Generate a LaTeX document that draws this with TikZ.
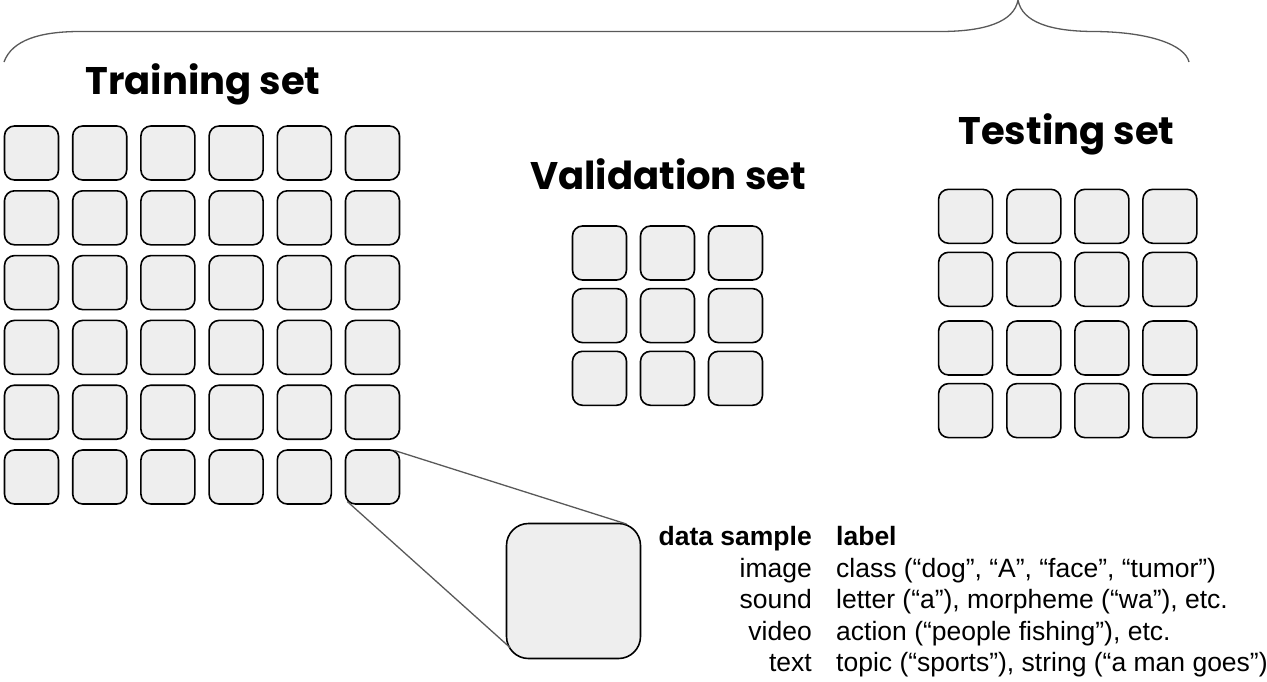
\documentclass[tikz,border=0pt]{standalone}
\usepackage{fontspec}
\setmainfont{Liberation Sans}
\newfontfamily\headfont{Poppins}
\usetikzlibrary{calc}
\definecolor{cellfill}{HTML}{EEEEEE}
\definecolor{linegray}{HTML}{595959}
\begin{document}
\begin{tikzpicture}[x=1pt,y=-1pt,
  cell/.style={draw=black, line width=1.6pt, fill=cellfill, rounded corners=10pt,
    minimum width=54pt, minimum height=54pt, inner sep=0pt, outer sep=0pt, anchor=north west},
  bigcell/.style={cell, rounded corners=22pt, minimum width=134pt, minimum height=135pt},
  settitle/.style={font=\headfont\bfseries\fontsize{38.5}{41}\selectfont, anchor=base, inner sep=0pt},
  tabhead/.style={font=\bfseries\fontsize{26.5}{30}\selectfont, inner sep=0pt},
  tabtext/.style={font=\fontsize{26.5}{30}\selectfont, inner sep=0pt},
  guide/.style={draw=linegray, line width=1.3pt}
]
\useasboundingbox (0,0) rectangle (1267,681);

% overall brace
\draw[guide] (4,62) .. controls (12,40) and (40,31.5) .. (80,31.5) -- (940,31.5)
  .. controls (985,31.5) and (1014,22) .. (1018,0)
  .. controls (1022,22) and (1050,31.5) .. (1095,31.5)
  .. controls (1150,32) and (1185,45) .. (1189,62);

% titles
\node[settitle] (ttrain) at (203,94) {Training set};
\node[settitle] (tval) at (668,189.5) {Validation set};
\node[settitle] (ttest) at (1066.5,144) {Testing set};

% training set: 6 x 6
\foreach \r/\y in {1/126,2/190.8,3/255.6,4/320.4,5/385.2,6/450}{
  \foreach \c/\x in {1/4.5,2/72.7,3/140.9,4/209.1,5/277.3,6/345.5}{
    \node[cell] (tr-\r-\c) at (\x,\y) {};
  }
}

% validation set: 3 x 3
\foreach \r/\y in {1/226,2/288.6,3/351.3}{
  \foreach \c/\x in {1/572.5,2/640.5,3/708.5}{
    \node[cell] (va-\r-\c) at (\x,\y) {};
  }
}

% testing set: 4 x 4
\foreach \r/\y in {1/189.3,2/252.3,3/321,4/383.6}{
  \foreach \c/\x in {1/938.6,2/1006.9,3/1074.9,4/1142.9}{
    \node[cell] (te-\r-\c) at (\x,\y) {};
  }
}

% magnified sample
\node[bigcell] (sample) at (506.5,523.5) {};
\draw[guide] ($(tr-6-6.north east)+(-5,0.5)$) -- ($(sample.north east)+(-14,0.5)$);
\draw[guide] ($(tr-6-6.south west)+(1.8,-2.5)$) -- ($(sample.south west)+(3.5,-11)$);

% sample / label table
\node[tabhead, anchor=base east] (hsample) at (812,545.5) {data sample};
\node[tabhead, anchor=base west] (hlabel) at (836,545.5) {label};
\node[tabtext, anchor=base east] (s1) at (812,577) {image};
\node[tabtext, anchor=base west] (l1) at (836,577) {class (“dog”, “A”, “face”, “tumor”)};
\node[tabtext, anchor=base east] (s2) at (812,608.5) {sound};
\node[tabtext, anchor=base west] (l2) at (836,608.5) {letter (“a”), morpheme (“wa”), etc.};
\node[tabtext, anchor=base east] (s3) at (812,640) {video};
\node[tabtext, anchor=base west] (l3) at (836,640) {action (“people fishing”), etc.};
\node[tabtext, anchor=base east] (s4) at (812,671.5) {text};
\node[tabtext, anchor=base west] (l4) at (836,671.5) {topic (“sports”), string (“a man goes”)};
\end{tikzpicture}
\end{document}
